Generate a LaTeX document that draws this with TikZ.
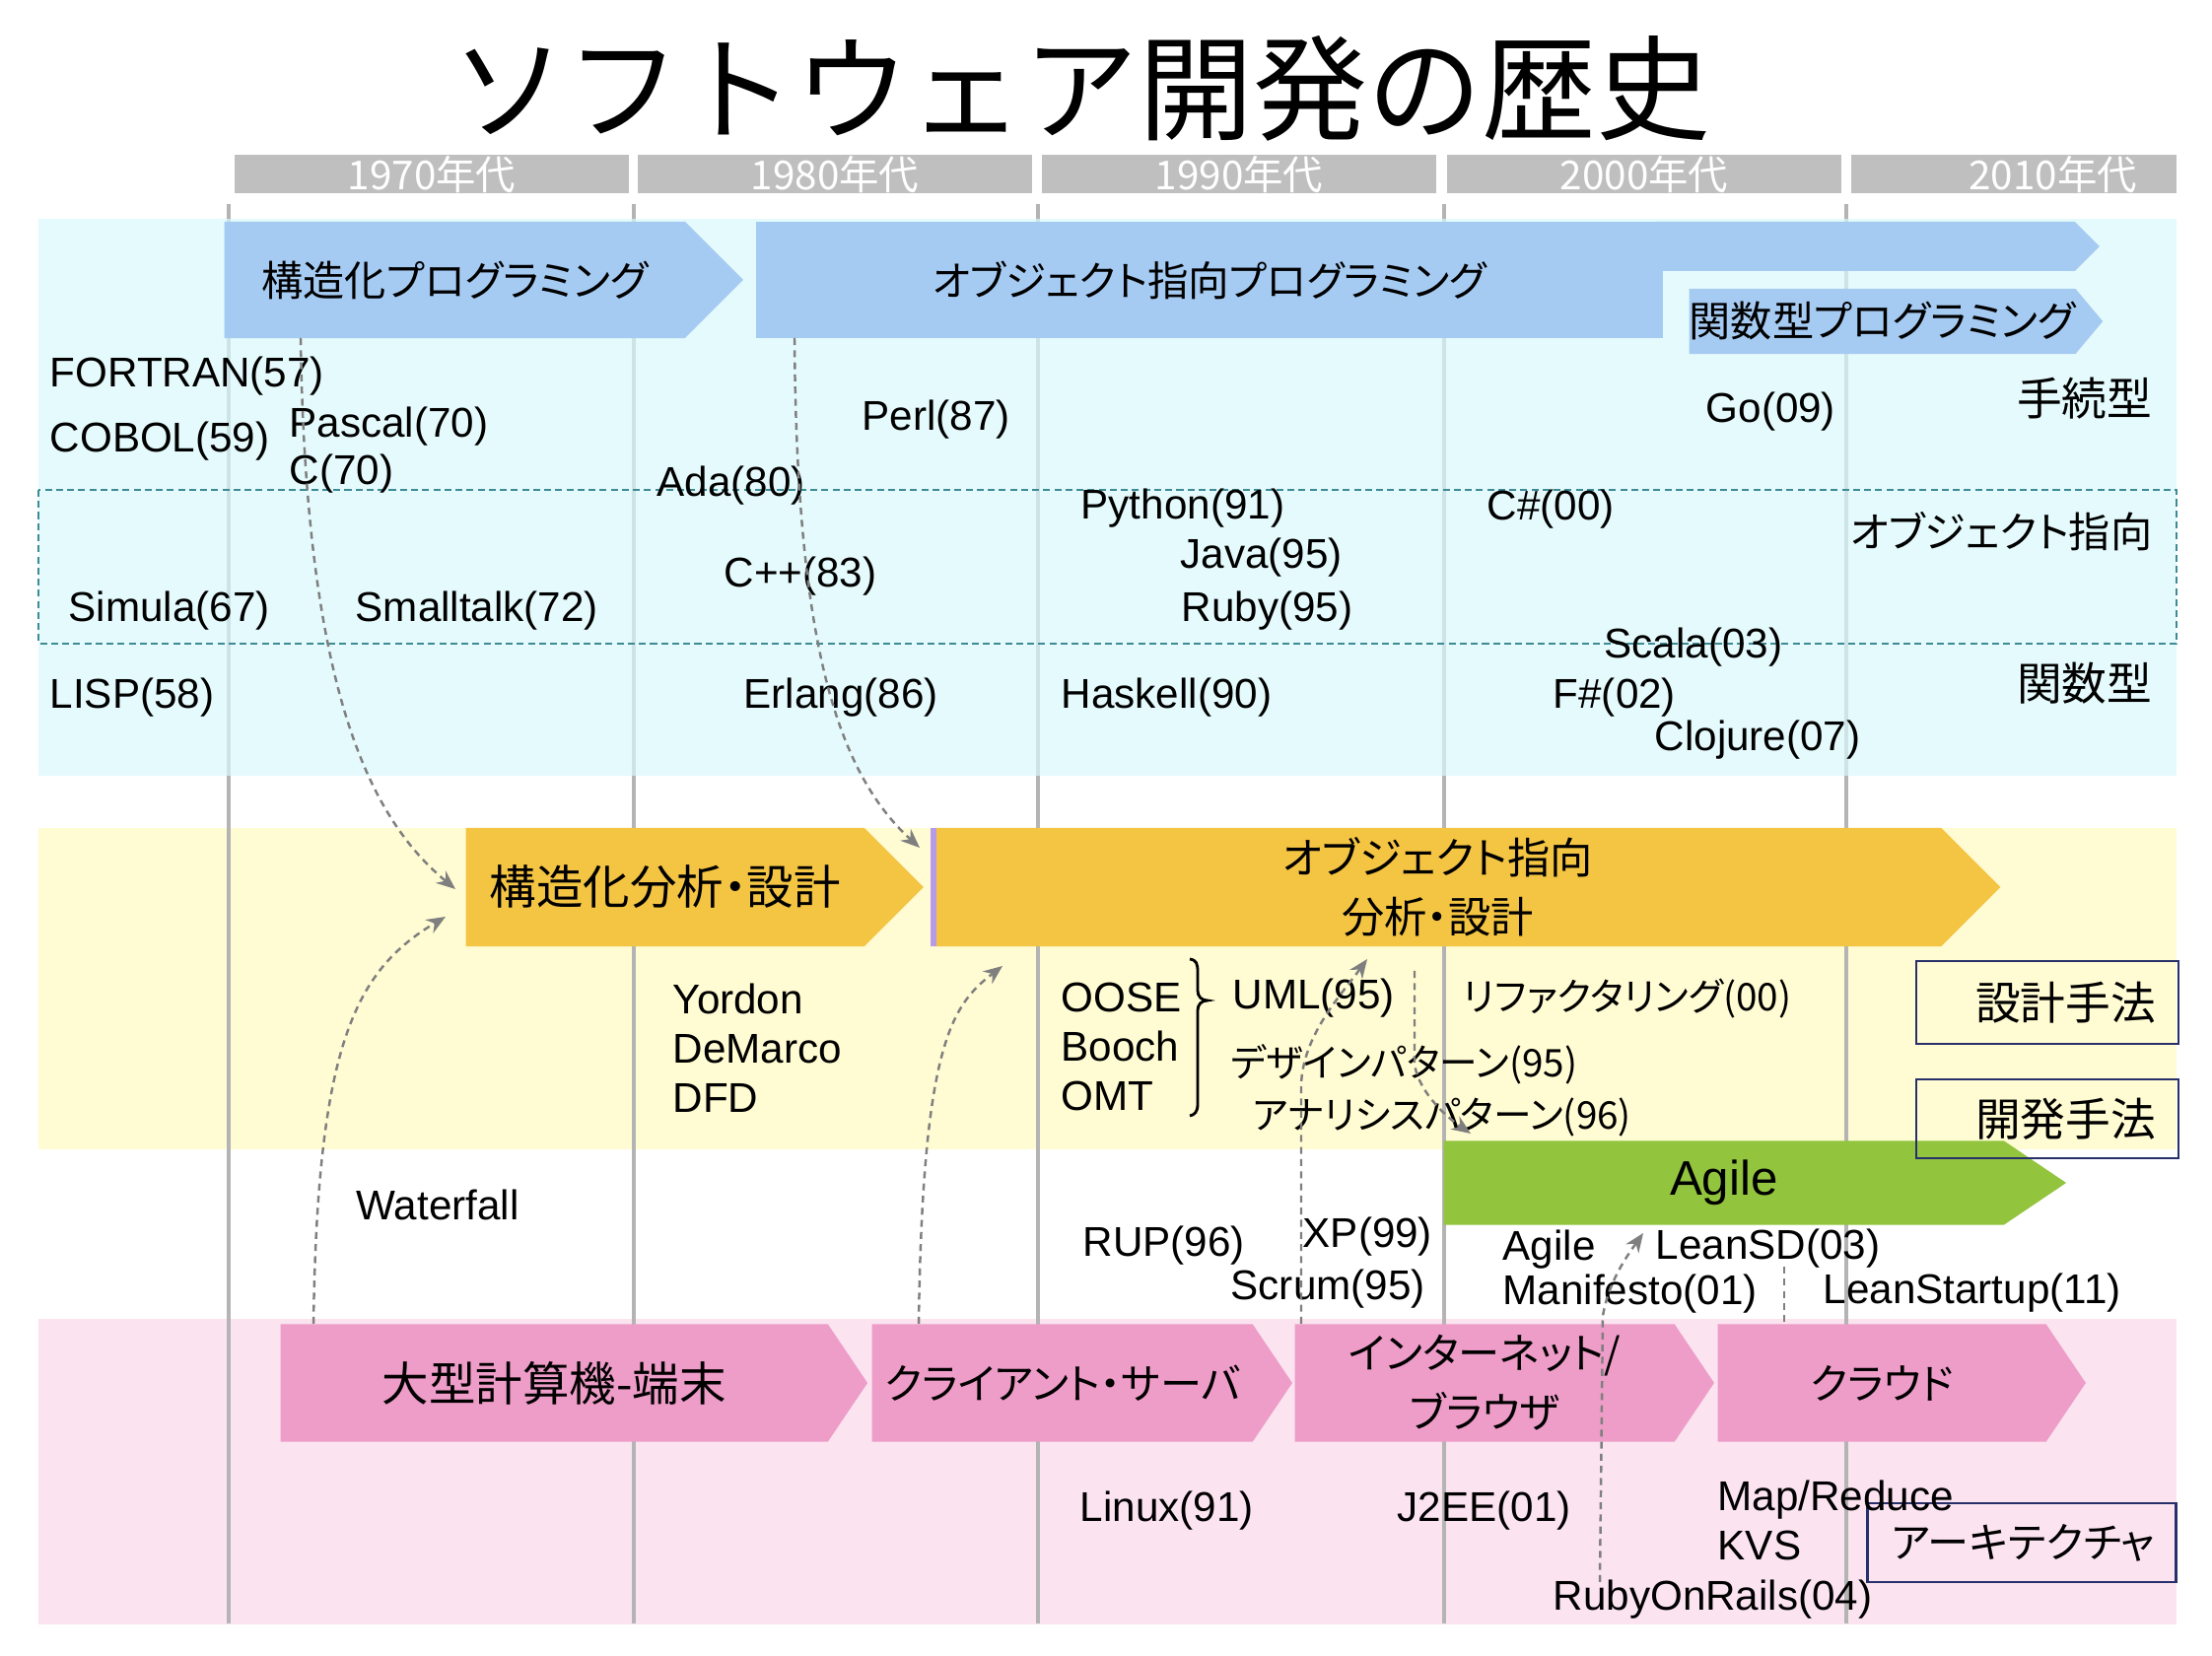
\documentclass[tikz,border=0pt]{standalone}
\usepackage{fontspec}
\setmainfont{Liberation Sans}
\newfontfamily\jp[RawFeature=+palt]{Noto Sans CJK JP}
\newfontfamily\jptitle{Noto Sans CJK JP}
\usetikzlibrary{shapes.symbols,arrows.meta,calc}
\definecolor{progBlue}{HTML}{A6CBF2}
\definecolor{designGold}{HTML}{F4C443}
\definecolor{agileGreen}{HTML}{92C43E}
\definecolor{archPink}{HTML}{EE9CC8}
\definecolor{langBg}{HTML}{DAF8FB}
\definecolor{designBg}{HTML}{FFFBD2}
\definecolor{archBg}{HTML}{FBE3F0}
\definecolor{barGray}{HTML}{BFBFBF}
\definecolor{lineGray}{HTML}{B4B4B4}
\definecolor{rowTeal}{HTML}{3D8B95}
\definecolor{linkGray}{HTML}{7F7F7F}
\definecolor{boxNavy}{HTML}{27306A}
\definecolor{oodEdge}{HTML}{B79BE6}

\begin{document}
\begin{tikzpicture}[x=0.01cm, y=-0.01cm,
    lang/.style={anchor=west, inner sep=0pt, align=left,
                 font=\fontsize{12}{14.2}\selectfont},
    jplang/.style={anchor=west, inner sep=0pt, font=\jp\fontsize{11}{13}\selectfont},
    kind/.style={anchor=east, inner sep=0pt, font=\jp\fontsize{13}{15}\selectfont},
    decade/.style={fill=barGray, text=white, inner sep=0pt, minimum width=3.99cm,
                   minimum height=0.39cm, font=\jp\fontsize{11.5}{13}\selectfont},
    era/.style={signal, signal to=east, fill=#1, anchor=west, inner sep=0pt,
                align=center, font=\jp\fontsize{12}{17}\selectfont},
    method/.style={draw=boxNavy, line width=0.8pt, inner sep=0pt, minimum width=2.66cm,
                   text width=2.2cm, align=right, font=\jp\fontsize{13}{15}\selectfont},
    link/.style={draw=linkGray, line width=0.7pt, dash pattern=on 2pt off 1.5pt,
                 -{Stealth[length=5.5pt, width=4.5pt]}},
]
\useasboundingbox (0,0) rectangle (2244,1680);
\fill[white] (0,0) rectangle (2244,1680);

% Bandas de fondo
\fill[designBg] (39,840) rectangle (2208,1166);
\fill[archBg] (39,1338) rectangle (2208,1648);

% Lineas de decadas
\draw[lineGray, line width=1.4pt] (232,207) -- (232,1647);
\draw[lineGray, line width=1.4pt] (643,207) -- (643,1647);
\draw[lineGray, line width=1.4pt] (1053,207) -- (1053,1647);
\draw[lineGray, line width=1.4pt] (1465,207) -- (1465,1647);
\draw[lineGray, line width=1.4pt] (1873,207) -- (1873,1647);

\fill[langBg, opacity=0.7] (39,222) rectangle (2208,787);
\draw[rowTeal, line width=0.8pt, dash pattern=on 2pt off 1.2pt] (39,497) rectangle (2208,653);

% Titulo
\node[font=\jptitle\fontsize{33}{38}\selectfont, inner sep=0pt] (title) at (1097,90) {ソフトウェア開発の歴史};

% Decadas
\node[decade] (d1970) at (438,177) {1970年代};
\node[decade] (d1980) at (847,177) {1980年代};
\node[decade] (d1990) at (1257,177) {1990年代};
\node[decade] (d2000) at (1668,177) {2000年代};
\node[decade, minimum width=3.29cm, text width=2.5cm, align=right] (d2010) at (2043,177) {2010年代};

% Programacion
\node[era=progBlue, minimum width=5.26cm, minimum height=1.18cm] (structprog) at (227,284) {構造化プログラミング};
\node[era=progBlue, minimum width=4.49cm, minimum height=0.5cm] (ooprogtip) at (1680,250) {};
\node[fill=progBlue, anchor=west, inner sep=0pt, minimum width=9.20cm, minimum height=1.18cm,
      font=\jp\fontsize{11.8}{15}\selectfont] (ooprog) at (766,284) {オブジェクト指向プログラミング};
\node[era=progBlue, signal pointer angle=100, minimum width=4.16cm, minimum height=0.66cm] (funcprog) at (1713,326) {関数型プログラミング};

% Lenguajes
\node[lang] (fortran) at (50,382) {FORTRAN(57)};
\node[lang] (cobol) at (50,448) {COBOL(59)};
\node[lang] (pascal) at (293,433) {Pascal(70)};
\node[lang] (clang) at (293,481) {C(70)};
\node[lang] (perl) at (874,426) {Perl(87)};
\node[lang] (golang) at (1730,418) {Go(09)};
\node[lang] (ada) at (666,493) {Ada(80)};
\node[lang] (python) at (1096,516) {Python(91)};
\node[lang] (csharp) at (1508,517) {C\#(00)};
\node[lang] (java) at (1197,566) {Java(95)};
\node[lang] (cpp) at (734,585) {C++(83)};
\node[lang] (simula) at (69,620) {Simula(67)};
\node[lang] (smalltalk) at (360,620) {Smalltalk(72)};
\node[lang] (ruby) at (1198,620) {Ruby(95)};
\node[lang] (scala) at (1627,657) {Scala(03)};
\node[lang] (lisp) at (50,708) {LISP(58)};
\node[lang] (erlang) at (754,708) {Erlang(86)};
\node[lang] (haskell) at (1076,708) {Haskell(90)};
\node[lang] (fsharp) at (1575,708) {F\#(02)};
\node[lang] (clojure) at (1678,751) {Clojure(07)};

\node[kind] (procedural) at (2184,404) {手続型};
\node[kind, font=\jp\fontsize{12}{15}\selectfont] (objoriented) at (2184,539) {オブジェクト指向};
\node[kind] (functional) at (2184,693) {関数型};

% Analisis y diseno
\node[era=designGold, minimum width=4.64cm, minimum height=1.2cm, font=\jp\fontsize{13.5}{17}\selectfont] (structanal) at (472,900) {構造化分析・設計};
\node[era=designGold, minimum width=10.81cm, minimum height=1.2cm, font=\jp\fontsize{12.3}{17}\selectfont] (oodesign) at (947,900) {オブジェクト指向\\分析・設計};
\draw[oodEdge, line width=1.6pt] ($(oodesign.west)+(0,-60)$) -- ($(oodesign.west)+(0,60)$);

\node[lang] (structmeth) at (682,1063) {Yordon\\DeMarco\\DFD};
\node[lang] (oometh) at (1076,1062) {OOSE\\Booch\\OMT};
\draw[line width=0.8pt] (1207,973) .. controls (1214,974) and (1215,978) .. (1215,986) -- (1215,1005)
    .. controls (1215,1011) and (1219,1015) .. (1225,1015) .. controls (1219,1015) and (1215,1019) .. (1215,1025)
    -- (1215,1120) .. controls (1215,1128) and (1212,1131) .. (1207,1132);
\node[lang] (uml) at (1250,1013) {UML(95)};
\node[jplang] (refactor) at (1484,1013) {リファクタリング(00)};
\node[jplang] (designpat) at (1248,1080) {デザインパターン(95)};
\node[jplang] (analysispat) at (1270,1133) {アナリシスパターン(96)};

% Procesos
\node[era=agileGreen, signal pointer angle=68, minimum width=6.31cm, minimum height=0.85cm,
      font=\fontsize{14}{16}\selectfont] (agile) at (1464,1200) {Agile};
\node[lang] (waterfall) at (361,1222) {Waterfall};
\node[lang] (rup) at (1098,1264) {RUP(96)};
\node[lang] (xp) at (1321,1255) {XP(99)};
\node[lang] (scrum) at (1248,1308) {Scrum(95)};
\node[lang, font=\fontsize{12}{12.8}\selectfont] (manifesto) at (1524,1290) {Agile\\Manifesto(01)};
\node[lang] (leansd) at (1679,1267) {LeanSD(03)};
\node[lang] (leanstartup) at (1849,1312) {LeanStartup(11)};

\node[method, minimum height=0.84cm] (designm) at (2077,1017) {設計手法};
\node[method, minimum height=0.80cm] (devm) at (2077,1135) {開発手法};

% Arquitectura
\node[era=archPink, signal pointer angle=112, minimum width=5.95cm, minimum height=1.19cm, font=\jp\fontsize{13.5}{17}\selectfont] (mainframe) at (284,1403) {大型計算機-端末};
\node[era=archPink, signal pointer angle=112, minimum width=4.26cm, minimum height=1.19cm] (clientsrv) at (884,1403) {クライアント・サーバ};
\node[era=archPink, signal pointer angle=112, minimum width=4.25cm, minimum height=1.19cm] (internet) at (1313,1403) {インターネット/\\ブラウザ};
\node[era=archPink, signal pointer angle=112, minimum width=3.73cm, minimum height=1.19cm] (cloud) at (1742,1403) {クラウド};

\node[lang] (linux) at (1095,1533) {Linux(91)};
\node[lang] (j2ee) at (1417,1533) {J2EE(01)};
\node[method, minimum width=3.13cm, minimum height=0.80cm, text width=2.63cm, font=\jp\fontsize{12}{15}\selectfont] (archm) at (2051,1565) {アーキテクチャ};
\node[lang] (mapreduce) at (1742,1542) {Map/Reduce\\KVS};
\node[lang] (rails) at (1575,1623) {RubyOnRails(04)};

% Flechas
\draw[link] ($(structprog.west)+(78,59)$) .. controls (310,700) and (375,830) .. ($(structanal.west)+(-10,2)$);
\draw[link] ($(mainframe.west)+(34,-60)$) .. controls (322,1060) and (360,985) .. ($(structanal.west)+(-20,30)$);
\draw[link] ($(ooprog.west)+(40,59)$) .. controls (808,640) and (845,780) .. ($(oodesign.west)+(-14,-40)$);
\draw[link] ($(clientsrv.west)+(48,-60)$) .. controls (936,1060) and (965,1020) .. ($(oodesign.west)+(70,80)$);
\draw[link] ($(internet.west)+(7,-60)$) -- (1320,1100) .. controls (1322,1050) and (1360,1010) .. ($(oodesign.west)+(440,73)$);
\draw[link] ($(oodesign.west)+(488,85)$) -- (1435,1080) .. controls (1440,1110) and (1470,1135) .. ($(agile.west)+(28,-50)$);
\draw[link] ($(rails.west)+(48,-18)$) -- (1626,1335) .. controls (1632,1300) and (1650,1275) .. ($(agile.west)+(203,51)$);
\draw[link, -] ($(leansd.west)+(131,18)$) -- ($(cloud.west)+(68,-60)$);

\end{tikzpicture}
\end{document}
